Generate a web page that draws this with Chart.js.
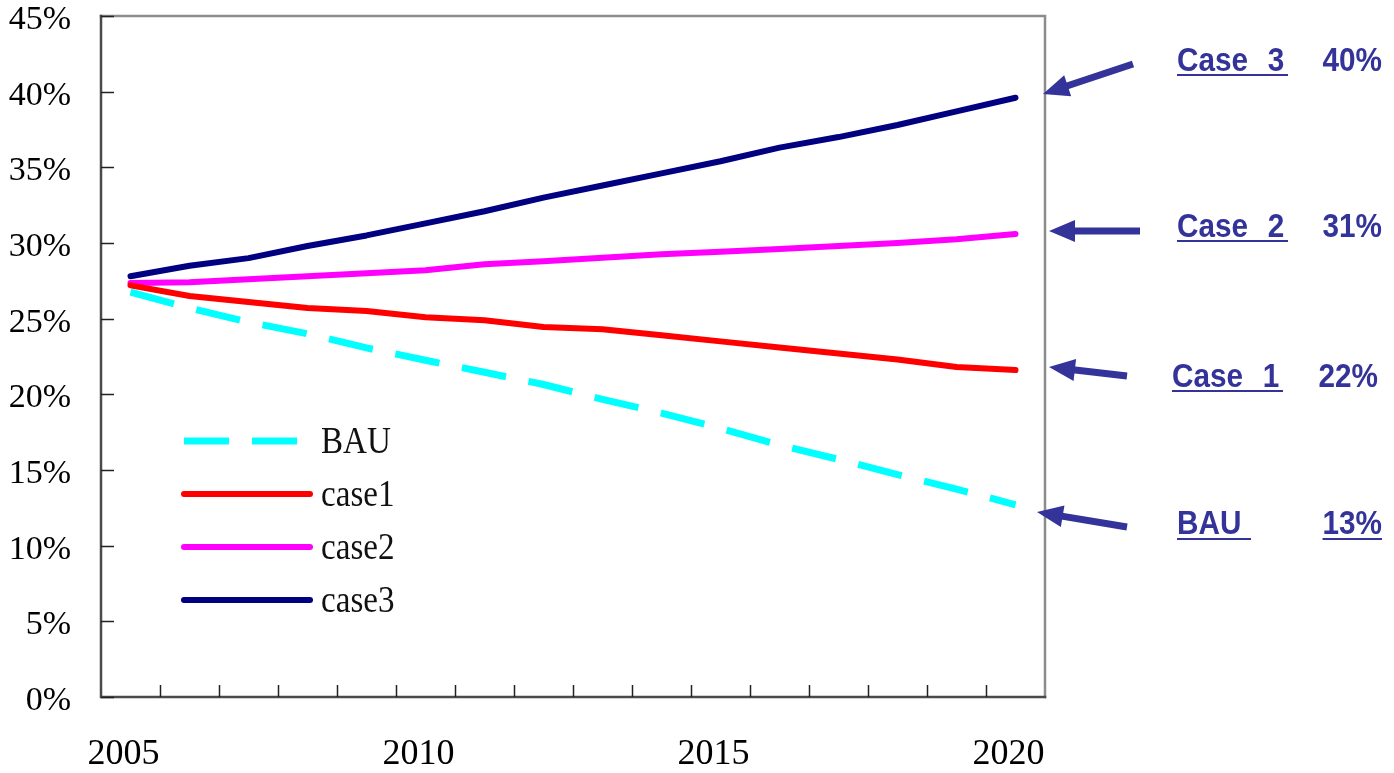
<!DOCTYPE html>
<html>
<head>
<meta charset="utf-8">
<title>BAU and case scenarios 2005-2020</title>
<script src="https://cdn.jsdelivr.net/npm/chart.js@4.4.1/dist/chart.umd.min.js"></script>
<style>
  html, body { margin: 0; padding: 0; background: #fff; overflow: hidden; }
  canvas { display: block; }
</style>
</head>
<body>
<canvas id="chart" width="1394" height="773"></canvas>
<script>
// ---- data ---------------------------------------------------------------
const years = ['2005','2006','2007','2008','2009','2010','2011','2012',
               '2013','2014','2015','2016','2017','2018','2019','2020'];
const shownYears = ['2005','2010','2015','2020'];

const bau   = [26.75, 25.7, 24.77, 24.0, 23.07, 22.25, 21.46, 20.65,
               19.67, 18.76, 17.75, 16.65, 15.7, 14.7, 13.74, 12.7];
const case1 = [27.2, 26.5, 26.1, 25.7, 25.5, 25.1, 24.9, 24.45,
               24.3, 23.9, 23.5, 23.1, 22.7, 22.3, 21.8, 21.6];
const case2 = [27.35, 27.4, 27.6, 27.8, 28.0, 28.2, 28.6, 28.8,
               29.03, 29.25, 29.42, 29.6, 29.8, 30.0, 30.25, 30.6];
const case3 = [27.8, 28.5, 29.0, 29.8, 30.5, 31.3, 32.1, 33.0,
               33.8, 34.6, 35.4, 36.3, 37.0, 37.8, 38.7, 39.6];

const seriesNames = ['BAU', 'case1', 'case2', 'case3'];
const calloutNames = ['BAU', 'Case 1', 'Case 2', 'Case 3'];

// ---- styling ------------------------------------------------------------
const SERIF = '"Liberation Serif", "Times New Roman", serif';
const GOTHIC = '"Liberation Sans", Arial, sans-serif';
const NOTE_COLOR = '#333399';

// callout layout: text row baseline, arrow tail and tip (canvas pixels)
const calloutLayout = [
  { base: 534, under: 539, x: 1177, pctRight: 1382, pctUnder: true,
    tail: [1127, 527], tip: [1037, 512] },
  { base: 387, under: 391, x: 1172, pctRight: 1378, pctUnder: false,
    tail: [1127, 376], tip: [1049, 367] },
  { base: 237, under: 241, x: 1177, pctRight: 1382, pctUnder: false,
    tail: [1140, 231], tip: [1049, 231] },
  { base: 71,  under: 75,  x: 1177, pctRight: 1382, pctUnder: false,
    tail: [1133, 64],  tip: [1043, 94] }
];

// frame around the plot area, with inward tick marks
const framePlugin = {
  id: 'frame',
  beforeDatasetsDraw(chart) {
    const { ctx, chartArea: a, scales: { x, y } } = chart;
    ctx.save();
    ctx.lineCap = 'square';
    ctx.lineWidth = 2.5;
    ctx.strokeStyle = '#8c8c8c';
    ctx.beginPath();
    ctx.moveTo(a.left, a.top); ctx.lineTo(a.right, a.top); ctx.lineTo(a.right, a.bottom);
    ctx.stroke();
    ctx.strokeStyle = '#4a4a4a';
    ctx.beginPath();
    ctx.moveTo(a.left, a.top); ctx.lineTo(a.left, a.bottom); ctx.lineTo(a.right, a.bottom);
    ctx.stroke();

    ctx.lineWidth = 1.5;
    ctx.strokeStyle = '#222';
    ctx.lineCap = 'butt';
    ctx.beginPath();
    y.ticks.forEach(t => {
      const py = Math.round(y.getPixelForValue(t.value)) + 0.5;
      ctx.moveTo(a.left, py); ctx.lineTo(a.left + 13, py);
    });
    const n = x.ticks.length;
    const step = x.getPixelForValue(1) - x.getPixelForValue(0);
    for (let i = 1; i < n; i++) {
      const px = Math.round(x.getPixelForValue(i) - step / 2) + 0.5;
      ctx.moveTo(px, a.bottom); ctx.lineTo(px, a.bottom - 12);
    }
    ctx.stroke();
    ctx.restore();
  }
};

// legend inside the plot area
const legendPlugin = {
  id: 'innerLegend',
  afterDatasetsDraw(chart) {
    const { ctx } = chart;
    ctx.save();
    chart.data.datasets.forEach((ds, i) => {
      const cy = 441 + i * 53;
      ctx.beginPath();
      ctx.strokeStyle = ds.borderColor;
      ctx.lineWidth = ds.borderWidth;
      ctx.setLineDash(ds.borderDash || []);
      ctx.lineCap = ds.borderDash ? 'butt' : 'round';
      ctx.moveTo(184, cy);
      ctx.lineTo(ds.borderDash ? 312 : 310, cy);
      ctx.stroke();
      ctx.setLineDash([]);
      ctx.fillStyle = '#111';
      ctx.font = '36px ' + SERIF;
      ctx.textBaseline = 'middle';
      ctx.textAlign = 'left';
      ctx.save();
      ctx.translate(321, cy + 2);
      ctx.scale(0.92, 1.05);
      ctx.fillText(ds.label, 0, 0);
      ctx.restore();
    });
    ctx.restore();
  }
};

// narrow bold text helper for the callouts
function narrowText(ctx, text, x, y, align) {
  ctx.save();
  ctx.translate(x, y);
  ctx.scale(0.9, 1);
  ctx.textAlign = align;
  ctx.fillText(text, 0, 0);
  const w = ctx.measureText(text).width * 0.9;
  ctx.restore();
  return w;
}

// callouts on the right: arrow and "name  value%" for the 2020 figure
const calloutPlugin = {
  id: 'callouts',
  afterDraw(chart) {
    const { ctx } = chart;
    ctx.save();
    ctx.fillStyle = NOTE_COLOR;
    ctx.strokeStyle = NOTE_COLOR;
    chart.data.datasets.forEach((ds, i) => {
      const L = calloutLayout[i];
      const last = ds.data[ds.data.length - 1];
      // arrow
      const [tx, ty] = L.tail, [hx, hy] = L.tip;
      const ang = Math.atan2(hy - ty, hx - tx);
      const headLen = 26, headHalf = 11;
      const bx = hx - Math.cos(ang) * headLen, by = hy - Math.sin(ang) * headLen;
      ctx.lineWidth = 7;
      ctx.lineCap = 'butt';
      ctx.beginPath();
      ctx.moveTo(tx, ty); ctx.lineTo(bx + Math.cos(ang) * 4, by + Math.sin(ang) * 4);
      ctx.stroke();
      ctx.beginPath();
      ctx.moveTo(hx, hy);
      ctx.lineTo(bx + Math.sin(ang) * headHalf, by - Math.cos(ang) * headHalf);
      ctx.lineTo(bx - Math.sin(ang) * headHalf, by + Math.cos(ang) * headHalf);
      ctx.closePath();
      ctx.fill();

      // text
      ctx.font = 'bold 33px ' + GOTHIC;
      ctx.textBaseline = 'alphabetic';
      const parts = calloutNames[i].split(' ');
      narrowText(ctx, parts[0], L.x, L.base, 'left');
      let underEnd;
      if (parts[1]) {
        narrowText(ctx, parts[1], L.x + 99, L.base, 'center');
        underEnd = L.x + 111;
      } else {
        underEnd = L.x + 74;
      }
      const pct = Math.round(last) + '%';
      const w = narrowText(ctx, pct, L.pctRight, L.base, 'right');
      ctx.lineWidth = 2;
      ctx.beginPath();
      ctx.moveTo(L.x, L.under); ctx.lineTo(underEnd, L.under);
      if (L.pctUnder) {
        ctx.moveTo(L.pctRight - w, L.under); ctx.lineTo(L.pctRight, L.under);
      }
      ctx.stroke();
    });
    ctx.restore();
  }
};

const seriesData = [bau, case1, case2, case3];
const seriesColors = ['#00ffff', '#ff0000', '#ff00ff', '#000080'];

const datasets = seriesData.map((d, i) => ({
  label: seriesNames[i],
  data: d,
  borderColor: seriesColors[i],
  backgroundColor: seriesColors[i],
  borderWidth: i === 0 ? 7 : 6,
  borderDash: i === 0 ? [45, 23] : undefined,
  borderCapStyle: i === 0 ? 'butt' : 'round',
  borderJoinStyle: 'round',
  pointRadius: 0,
  tension: 0,
  fill: false
}));

new Chart(document.getElementById('chart'), {
  type: 'line',
  data: { labels: years, datasets },
  options: {
    responsive: false,
    devicePixelRatio: 1,
    animation: false,
    events: [],
    layout: { padding: { left: 0, top: 16, right: 349, bottom: 0 } },
    plugins: {
      legend: { display: false },
      tooltip: { enabled: false }
    },
    scales: {
      x: {
        type: 'category',
        offset: true,
        grid: { display: false, drawTicks: false },
        border: { display: false },
        ticks: {
          autoSkip: false,
          maxRotation: 0,
          labelOffset: -7,
          padding: 36,
          color: '#000',
          font: { family: SERIF, size: 36 },
          callback(v) {
            const l = this.getLabelForValue(v);
            return shownYears.includes(l) ? l : '';
          }
        },
        afterFit(s) { s.height = 76; s.paddingLeft = 0; s.paddingRight = 0; }
      },
      y: {
        min: 0,
        max: 45,
        grid: { display: false, drawTicks: false },
        border: { display: false },
        ticks: {
          stepSize: 5,
          padding: 30,
          labelOffset: 4,
          color: '#000',
          font: { family: SERIF, size: 34 },
          callback: v => v + '%'
        },
        afterFit(s) { s.width = 101; s.paddingTop = 0; s.paddingBottom = 0; }
      }
    }
  },
  plugins: [framePlugin, legendPlugin, calloutPlugin]
});
</script>
</body>
</html>
